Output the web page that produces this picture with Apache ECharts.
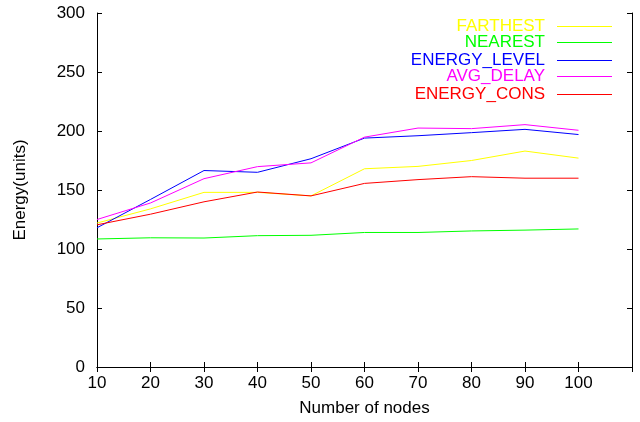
<!DOCTYPE html>
<html>
<head>
<meta charset="utf-8">
<script src="https://cdn.jsdelivr.net/npm/echarts@6/dist/echarts.min.js"></script>
<style>html,body{margin:0;padding:0;background:#fff}#c{width:640px;height:422px}</style>
</head>
<body>
<div id="c"></div>
<script>
const nodes = [10, 20, 30, 40, 50, 60, 70, 80, 90, 100];
const farthest = [122, 134, 148, 148, 145, 168, 170, 175, 183, 177];
const nearest = [108.5, 109.5, 109.3, 111.3, 111.6, 114, 114, 115.3, 116, 117];
const energyLevel = [118, 142, 166.5, 165, 176.5, 194, 196, 198.6, 201.4, 197];
const avgDelay = [125, 139, 159.6, 169.8, 173, 194.8, 202.5, 202, 205.4, 200.6];
const energyCons = [120.5, 129.5, 140, 148.3, 145, 155.6, 158.8, 161.3, 160, 160];
const seriesNames = ['FARTHEST', 'NEAREST', 'ENERGY_LEVEL', 'AVG_DELAY', 'ENERGY_CONS'];
const seriesColors = ['#ffff00', '#00ff00', '#0000ff', '#ff00ff', '#ff0000'];
const seriesData = [farthest, nearest, energyLevel, avgDelay, energyCons];
const legendTop = [18, 34, 52, 68, 86];

const FONT = 'Liberation Sans, Arial, sans-serif';
const chart = echarts.init(document.getElementById('c'), null, {renderer: 'canvas'});

const series = seriesNames.map((n, i) => ({
  name: n,
  type: 'line',
  symbol: 'none',
  data: nodes.map((x, j) => [x, seriesData[i][j]]),
  lineStyle: {color: seriesColors[i], width: 1},
  itemStyle: {color: seriesColors[i]},
  animation: false,
  z: 2 + i
}));

const legends = seriesNames.map((n, i) => ({
  data: [{name: n, itemStyle: {color: seriesColors[i]}}],
  orient: 'vertical',
  right: 28,
  top: legendTop[i],
  align: 'right',
  padding: 0,
  icon: 'rect',
  itemWidth: 55,
  itemHeight: 1,
  selectedMode: false,
  itemStyle: {color: seriesColors[i]},
  textStyle: {color: seriesColors[i], fontSize: 17, fontFamily: FONT, padding: [0, 7, 0, 0]}
}));

const labelStyle = {color: '#000', fontSize: 17, fontFamily: FONT};

chart.setOption({
  backgroundColor: '#fff',
  animation: false,
  grid: {left: 97, right: 8, top: 13, bottom: 55, containLabel: false},
  legend: legends,
  xAxis: [{
    type: 'value', min: 10, max: 110, interval: 10,
    name: 'Number of nodes', nameLocation: 'middle', nameGap: 33,
    nameTextStyle: labelStyle,
    axisLine: {show: true, lineStyle: {color: '#000', width: 1}},
    axisTick: {show: true, inside: true, length: 5, lineStyle: {color: '#000'}},
    axisLabel: Object.assign({margin: 8, formatter: v => v > 100 ? '' : String(v)}, labelStyle),
    splitLine: {show: false}
  }, {
    type: 'value', min: 10, max: 110, interval: 10, position: 'top',
    axisLine: {show: true, lineStyle: {color: '#000', width: 1}},
    axisTick: {show: true, inside: true, length: 5, lineStyle: {color: '#000'}},
    axisLabel: {show: false},
    splitLine: {show: false}
  }],
  yAxis: [{
    type: 'value', min: 0, max: 300, interval: 50,
    name: 'Energy(units)', nameLocation: 'middle', nameGap: 68, nameRotate: 90,
    nameTextStyle: labelStyle,
    axisLine: {show: true, lineStyle: {color: '#000', width: 1}},
    axisTick: {show: true, inside: true, length: 5, lineStyle: {color: '#000'}},
    axisLabel: Object.assign({margin: 12}, labelStyle),
    splitLine: {show: false}
  }, {
    type: 'value', min: 0, max: 300, interval: 50, position: 'right',
    axisLine: {show: true, lineStyle: {color: '#000', width: 1}},
    axisTick: {show: true, inside: true, length: 5, lineStyle: {color: '#000'}},
    axisLabel: {show: false},
    splitLine: {show: false}
  }],
  series: series
});
</script>
</body>
</html>
